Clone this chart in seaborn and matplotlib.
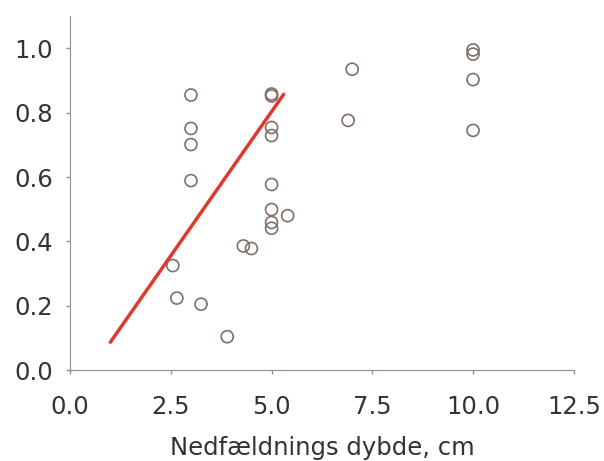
import matplotlib
matplotlib.use('Agg')
import matplotlib.pyplot as plt
import seaborn as sns
import pandas as pd

# Data
depth = [3.0, 3.0, 3.0, 3.0,
         5.0, 5.0, 5.0, 5.0, 5.0, 5.0, 5.0, 5.0,
         5.4, 4.3, 4.5, 2.55, 2.65, 3.25, 3.9,
         6.9, 7.0, 10.0, 10.0, 10.0, 10.0]
fraction = [0.855, 0.751, 0.701, 0.589,
            0.858, 0.852, 0.754, 0.729, 0.577, 0.499, 0.459, 0.441,
            0.480, 0.386, 0.378, 0.325, 0.224, 0.205, 0.104,
            0.776, 0.935, 0.995, 0.982, 0.903, 0.745]

# Regression line end points
line_x = [1.0, 5.3]
line_y = [0.087, 0.857]

df = pd.DataFrame({'depth': depth, 'fraction': fraction})
line_df = pd.DataFrame({'x': line_x, 'y': line_y})

sns.set_style('ticks')
plt.rcParams['font.family'] = ['DejaVu Sans']

fig = plt.figure(figsize=(6.04, 4.61), dpi=100)
ax = fig.add_axes([0.116, 0.197, 0.834, 0.768])

sns.scatterplot(data=df, x='depth', y='fraction', ax=ax, marker='o',
                facecolors='none', edgecolor='#806e6a', s=75, linewidth=1.2,
                zorder=3)
sns.lineplot(data=line_df, x='x', y='y', ax=ax, color='#e0392b', linewidth=2.5,
             zorder=2)

ax.set_xlim(0, 12.5)
ax.set_ylim(0, 1.1)
ax.set_xticks([0, 2.5, 5.0, 7.5, 10.0, 12.5])
ax.set_xticklabels(['0.0', '2.5', '5.0', '7.5', '10.0', '12.5'])
ax.set_yticks([0, 0.2, 0.4, 0.6, 0.8, 1.0])
ax.set_yticklabels(['0.0', '0.2', '0.4', '0.6', '0.8', '1.0'])
ax.tick_params(labelsize=17.5, colors='#9a8b89', labelcolor='#333333',
               length=3, width=1)
ax.tick_params(axis='x', pad=15)
ax.tick_params(axis='y', pad=9)
ax.set_xlabel('Nedfældnings dybde, cm', fontsize=17.5, color='#333333', labelpad=12)
ax.set_ylabel('')
for s in ['left', 'bottom']:
    ax.spines[s].set_color('#9a8b89')
sns.despine(ax=ax)

fig.savefig('out.png', dpi=100)
